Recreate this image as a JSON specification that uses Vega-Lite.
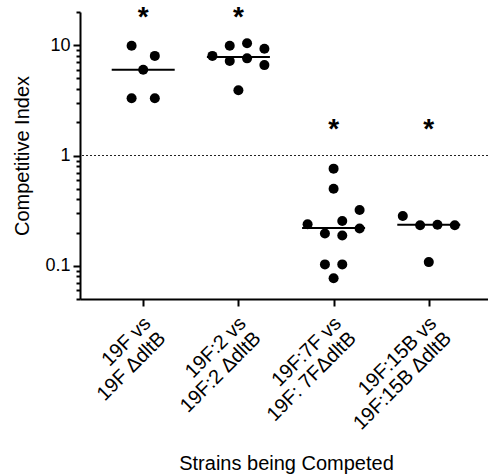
{
  "$schema": "https://vega.github.io/schema/vega-lite/v6.json",
  "width": 412,
  "height": 287,
  "autosize": {"type": "none"},
  "padding": {"left": 80, "top": 12, "right": 0, "bottom": 177},
  "config": {
    "view": {"stroke": null},
    "font": "Liberation Sans",
    "axis": {"labelFont": "Liberation Sans", "titleFont": "Liberation Sans", "labelColor": "#000", "titleColor": "#000", "domainColor": "#000", "tickColor": "#000", "grid": false, "titleFontWeight": "normal"}
  },
  "datasets": {
    "points": [
      {"group": "19F vs|19F ΔdltB", "ci": 9.9, "jitter": -1.34},
      {"group": "19F vs|19F ΔdltB", "ci": 8.0, "jitter": 1.34},
      {"group": "19F vs|19F ΔdltB", "ci": 6.0, "jitter": 0},
      {"group": "19F vs|19F ΔdltB", "ci": 3.3, "jitter": -1.34},
      {"group": "19F vs|19F ΔdltB", "ci": 3.3, "jitter": 1.34},
      {"group": "19F:2 vs|19F:2 ΔdltB", "ci": 8.0, "jitter": -3},
      {"group": "19F:2 vs|19F:2 ΔdltB", "ci": 9.9, "jitter": -1},
      {"group": "19F:2 vs|19F:2 ΔdltB", "ci": 10.4, "jitter": 1},
      {"group": "19F:2 vs|19F:2 ΔdltB", "ci": 9.3, "jitter": 3},
      {"group": "19F:2 vs|19F:2 ΔdltB", "ci": 7.2, "jitter": -1},
      {"group": "19F:2 vs|19F:2 ΔdltB", "ci": 7.6, "jitter": 1},
      {"group": "19F:2 vs|19F:2 ΔdltB", "ci": 6.6, "jitter": 3},
      {"group": "19F:2 vs|19F:2 ΔdltB", "ci": 3.9, "jitter": 0},
      {"group": "19F:7F vs|19F: 7FΔdltB", "ci": 0.76, "jitter": 0},
      {"group": "19F:7F vs|19F: 7FΔdltB", "ci": 0.5, "jitter": 0},
      {"group": "19F:7F vs|19F: 7FΔdltB", "ci": 0.32, "jitter": 3},
      {"group": "19F:7F vs|19F: 7FΔdltB", "ci": 0.238, "jitter": -3},
      {"group": "19F:7F vs|19F: 7FΔdltB", "ci": 0.255, "jitter": 1},
      {"group": "19F:7F vs|19F: 7FΔdltB", "ci": 0.218, "jitter": 3},
      {"group": "19F:7F vs|19F: 7FΔdltB", "ci": 0.196, "jitter": -1},
      {"group": "19F:7F vs|19F: 7FΔdltB", "ci": 0.188, "jitter": 1},
      {"group": "19F:7F vs|19F: 7FΔdltB", "ci": 0.103, "jitter": -1},
      {"group": "19F:7F vs|19F: 7FΔdltB", "ci": 0.103, "jitter": 1},
      {"group": "19F:7F vs|19F: 7FΔdltB", "ci": 0.077, "jitter": 0},
      {"group": "19F:15B vs|19F:15B ΔdltB", "ci": 0.283, "jitter": -3},
      {"group": "19F:15B vs|19F:15B ΔdltB", "ci": 0.233, "jitter": -1},
      {"group": "19F:15B vs|19F:15B ΔdltB", "ci": 0.236, "jitter": 1},
      {"group": "19F:15B vs|19F:15B ΔdltB", "ci": 0.233, "jitter": 3},
      {"group": "19F:15B vs|19F:15B ΔdltB", "ci": 0.108, "jitter": 0}
    ],
    "medians": [
      {"group": "19F vs|19F ΔdltB", "median": 6.0},
      {"group": "19F:2 vs|19F:2 ΔdltB", "median": 7.8},
      {"group": "19F:7F vs|19F: 7FΔdltB", "median": 0.22},
      {"group": "19F:15B vs|19F:15B ΔdltB", "median": 0.236}
    ],
    "stars": [
      {"group": "19F vs|19F ΔdltB", "pos": 20, "sig": "*"},
      {"group": "19F:2 vs|19F:2 ΔdltB", "pos": 20, "sig": "*"},
      {"group": "19F:7F vs|19F: 7FΔdltB", "pos": 1.95, "sig": "*"},
      {"group": "19F:15B vs|19F:15B ΔdltB", "pos": 1.95, "sig": "*"}
    ],
    "reference": [
      {"ci": 1}
    ]
  },
  "encoding": {
    "x": {
      "field": "group", "type": "nominal",
      "scale": {"type": "point", "padding": 0.664, "domain": ["19F vs|19F ΔdltB", "19F:2 vs|19F:2 ΔdltB", "19F:7F vs|19F: 7FΔdltB", "19F:15B vs|19F:15B ΔdltB"]},
      "axis": {
        "title": "Strains being Competed", "titleFontSize": 20, "titleY": 164, "titleBaseline": "middle",
        "labelExpr": "split(datum.label, '|')", "labelAngle": -45, "labelAlign": "right", "labelBaseline": "middle",
        "labelFontSize": 20, "labelLineHeight": 21, "labelPadding": 14, "labelOffset": 4,
        "tickSize": 7, "tickWidth": 2, "domainWidth": 2, "labelOverlap": false, "labelBound": false, "labelLimit": 0
      }
    }
  },
  "layer": [
    {
      "data": {"name": "reference"},
      "mark": {"type": "rule", "strokeDash": [2, 2], "strokeWidth": 1, "color": "#222"},
      "encoding": {"y": {"field": "ci", "type": "quantitative"}, "x": null}
    },
    {
      "data": {"name": "points"},
      "mark": {"type": "circle", "size": 100, "color": "#000", "opacity": 1},
      "encoding": {
        "xOffset": {"field": "jitter", "type": "quantitative", "scale": {"domain": [-3, 3], "range": [-26, 26]}},
        "y": {
          "field": "ci", "type": "quantitative",
          "scale": {"type": "log", "domain": [0.05, 20], "nice": false},
          "axis": {
            "title": "Competitive Index", "titleFontSize": 20, "titleX": -58, "titleBaseline": "middle",
            "values": [0.05, 0.06, 0.07, 0.08, 0.09, 0.1, 0.2, 0.3, 0.4, 0.5, 0.6, 0.7, 0.8, 0.9, 1, 2, 3, 4, 5, 6, 7, 8, 9, 10, 20],
            "labelExpr": "datum.value == 0.1 ? '0.1' : datum.value == 1 ? '1' : datum.value == 10 ? '10' : ''",
            "labelFontSize": 18, "labelPadding": 3, "labelOverlap": false, "labelFlush": false,
            "tickSize": {"condition": {"test": "datum.value == 0.1 || datum.value == 1 || datum.value == 10", "value": 7}, "value": 4},
            "tickWidth": 2, "domainWidth": 2
          }
        }
      }
    },
    {
      "data": {"name": "medians"},
      "mark": {"type": "tick", "size": 63, "thickness": 2, "color": "#000", "opacity": 1},
      "encoding": {"y": {"field": "median", "type": "quantitative"}}
    },
    {
      "data": {"name": "stars"},
      "mark": {"type": "text", "fontSize": 28, "fontWeight": "bold", "baseline": "middle", "dy": 6, "color": "#000"},
      "encoding": {"y": {"field": "pos", "type": "quantitative"}, "text": {"field": "sig"}}
    }
  ]
}
